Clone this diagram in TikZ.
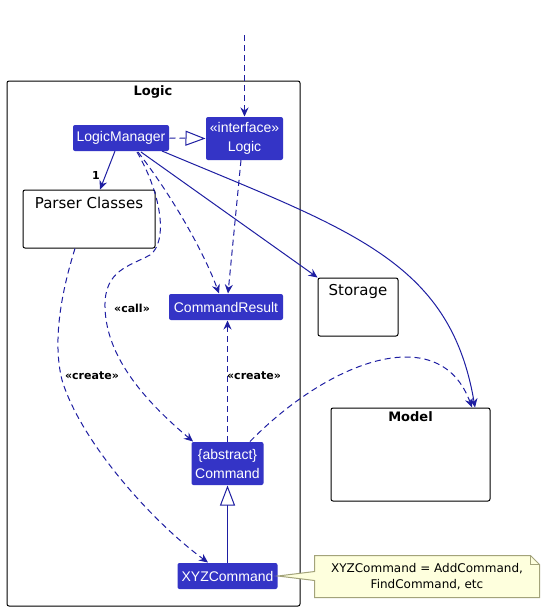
\documentclass[tikz,border=0pt]{standalone}
\usepackage{fontspec}
\setmainfont{Liberation Sans}
\newfontfamily\pkgfont{DejaVu Sans}
\usetikzlibrary{arrows.meta}
\definecolor{clsblue}{HTML}{3434C6}
\definecolor{arrblue}{HTML}{1E1EA2}
\definecolor{notefill}{HTML}{FEFFDD}
\definecolor{noteline}{HTML}{A3A37A}

\begin{document}
\begin{tikzpicture}[x=1pt,y=-1pt, line width=1pt,
  cls/.style={fill=clsblue, rounded corners=2pt, text=white, inner sep=0pt, align=center, font=\fontsize{14}{19}\selectfont},
  pkg/.style={draw=black, rounded corners=2pt, fill=white, inner sep=0pt},
  pkgtitle/.style={font=\pkgfont\fontsize{15}{17}\selectfont},
  boldtitle/.style={font=\pkgfont\bfseries\fontsize{13}{15}\selectfont},
  stereo/.style={font=\pkgfont\bfseries\fontsize{11}{13}\selectfont},
  dep/.style={color=arrblue, dash pattern=on 6pt off 4pt, -{Stealth[length=9pt,width=8pt,inset=3pt]}},
  assoc/.style={color=arrblue, -{Stealth[length=9pt,width=8pt,inset=3pt]}},
  realize/.style={color=arrblue, dash pattern=on 6pt off 4pt, -{Triangle[length=20pt,width=15pt,fill=white]}},
  inherit/.style={color=arrblue, -{Triangle[length=20pt,width=15pt,fill=white]}},
  ]

\useasboundingbox (0,0) rectangle (545,611);

\node[pkg, minimum width=293, minimum height=525] (logicPkg) at (153.5,343.5) {};
\node[boldtitle] (logicTitle) at (153,92) {Logic};

\node[pkg, minimum width=132, minimum height=58] (parser) at (89,219) {};
\node[pkgtitle] (parserTitle) at (89,203) {Parser Classes};

\node[pkg, minimum width=80, minimum height=58] (storage) at (358,307) {};
\node[pkgtitle] (storageTitle) at (358,291) {Storage};

\node[pkg, minimum width=159, minimum height=93] (model) at (410.5,454.5) {};
\node[boldtitle] (modelTitle) at (410.5,417) {Model};

\node[cls, minimum width=96, minimum height=26] (logicMgr) at (121,138) {LogicManager};
\node[cls, minimum width=77, minimum height=43] (logicIf) at (244.5,138.5) {«interface»\\Logic};
\node[cls, minimum width=114, minimum height=26] (cmdResult) at (226,307) {CommandResult};
\node[cls, minimum width=72, minimum height=43] (cmd) at (227.5,463.5) {\{abstract\}\\Command};
\node[cls, minimum width=100, minimum height=26] (xyzCmd) at (227.5,576) {XYZCommand};

\coordinate (topIn) at (244.5,35);

\draw[dep] (topIn) -- (logicIf.north);
\draw[realize] (logicMgr.east) -- (logicIf.west);
\draw[assoc] (115,151) -- (parser.north -| 100,0);
\node[stereo] (one) at (96,175) {1};

\draw[dep] (138,152) .. controls (175,200) and (205,255) .. (cmdResult.north -| 219,0);
\draw[dep] (241,160) -- (cmdResult.north -| 228,0);
\draw[dep] (137,152) .. controls (162,195) and (168,242) .. (150,255) .. controls (130,266) and (104,270) .. (105,307) .. controls (106,360) and (150,405) .. (cmd.north -| 193,0);
\node[stereo] (callLbl) at (132,308) {«call»};

\draw[assoc] (141,152) -- (storage.north west);
\draw[assoc] (162,151) .. controls (350,230) and (450,260) .. (model.north -| 475,0);

\draw[dep] (parser.south -| 75,0) .. controls (62,290) and (52,340) .. (62,380) .. controls (80,440) and (150,520) .. (xyzCmd.north -| 208,0);
\node[stereo] (createLbl1) at (92,376) {«create»};

\draw[dep] (cmd.north) -- (cmdResult.south -| cmd.north);
\node[stereo] (createLbl2) at (254,376) {«create»};
\draw[dep] (cmd.north -| 250,0) .. controls (330,360) and (440,320) .. (model.north -| 472,0);

\draw[inherit] (xyzCmd.north) -- (cmd.south);

\node[align=center, inner sep=0pt, minimum width=224, minimum height=41] (note) at (427,576.5) {};
\draw[noteline, fill=notefill] (note.north west) -- ([xshift=-9pt]note.north east) -- ([yshift=-9pt]note.north east) -- (note.south east) -- (note.south west) -- ([yshift=-4pt]note.west) -- (xyzCmd.east) -- ([yshift=5pt]note.west) -- cycle;
\draw[noteline] ([xshift=-9pt]note.north east) -- ([xshift=-9pt,yshift=-9pt]note.north east) -- ([yshift=-9pt]note.north east);
\node[align=center, inner sep=0pt, font=\pkgfont\fontsize{12}{16}\selectfont] (noteText) at (note) {XYZCommand = AddCommand,\\FindCommand, etc};

\end{tikzpicture}
\end{document}
